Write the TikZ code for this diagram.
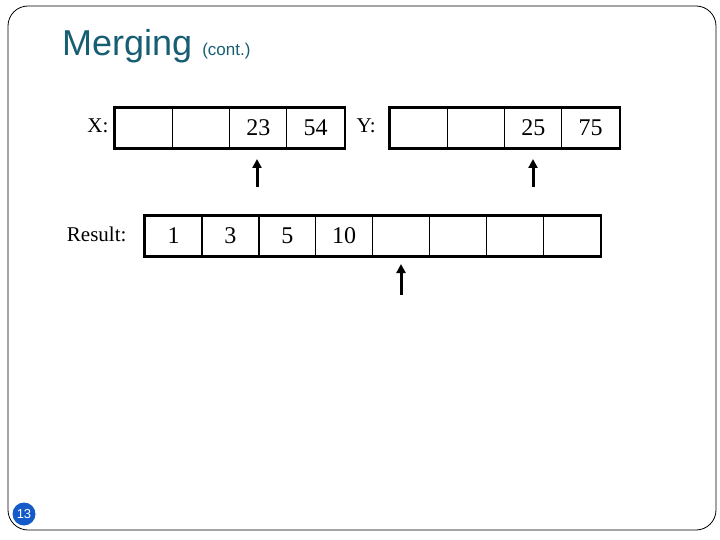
\documentclass[tikz,border=0pt]{standalone}
\usepackage{fontspec}
\setmainfont{Liberation Serif}
\newfontfamily\sansf{Liberation Sans}
\usetikzlibrary{arrows.meta}
\definecolor{titlec}{RGB}{23,94,114}
\definecolor{numc}{RGB}{20,90,200}
\begin{document}
\begin{tikzpicture}[x=1pt,y=-1pt,
  cellbox/.style={draw,line width=1pt,minimum width=57.3pt,minimum height=40pt,inner sep=0pt,font=\fontsize{24}{26}\selectfont},
  outer/.style={line width=2.4pt},
  lbl/.style={font=\fontsize{21}{23}\selectfont},
  ptr/.style={-{Triangle[length=9pt,width=9pt]},line width=3pt}]
\useasboundingbox (0,0) rectangle (720,540);
\draw[rounded corners=20pt,line width=0.8pt] (8,6) rectangle (716,530);
\node[anchor=base west,text=titlec,font=\sansf\fontsize{36}{38}\selectfont,inner sep=0pt] (t) at (62,56) {Merging \fontsize{17}{19}\selectfont(cont.)};
\foreach \i/\v in {0/,1/,2/23,3/54}{\node[cellbox] (x\i) at (143.7+57.3*\i,128) {\v};}
\foreach \i/\v in {0/,1/,2/25,3/75}{\node[cellbox] (y\i) at (418.7+57.3*\i,128) {\v};}
\foreach \i/\v in {0/1,1/3,2/5,3/10,4/,5/,6/,7/}{\node[cellbox] (r\i) at (173.5+56.9*\i,236) {\v};}
\draw[outer] (x0.north west) rectangle (x3.south east);
\draw[outer] (y0.north west) rectangle (y3.south east);
\draw[outer] (r0.north west) rectangle (r7.south east);
\node[lbl,anchor=east] (xl) at (112,126) {X:};
\node[lbl,anchor=west] (yl) at (353,126) {Y:};
\node[lbl,anchor=east] (rl) at (130,234) {Result:};
\coordinate (a1) at (257,187); \coordinate (a1t) at (257,159);
\coordinate (a2) at (533,187); \coordinate (a2t) at (533,159);
\coordinate (a3) at (401,295); \coordinate (a3t) at (401,264);
\draw[ptr] (a1) -- (a1t);
\draw[ptr] (a2) -- (a2t);
\draw[ptr] (a3) -- (a3t);
\node[circle,fill=numc,text=white,inner sep=0pt,minimum size=23pt,font=\sansf\fontsize{13}{14}\selectfont] (n) at (24,514) {13};
\end{tikzpicture}
\end{document}
